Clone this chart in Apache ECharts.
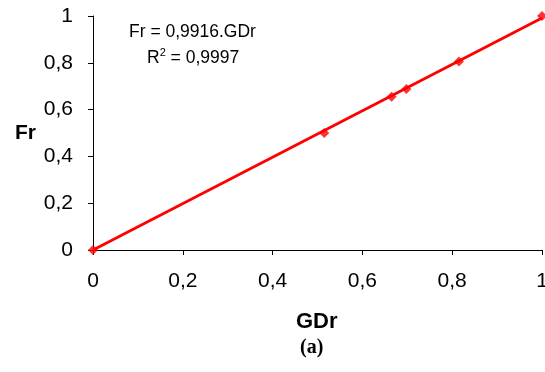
<!DOCTYPE html>
<html><head><meta charset="utf-8">
<script src="https://cdn.jsdelivr.net/npm/echarts@6/dist/echarts.min.js"></script>
<style>html,body{margin:0;padding:0;background:#fff}#c{width:545px;height:372px}</style>
</head><body><div id="c"></div>
<script>
const gdr = [0, 0.515, 0.665, 0.698, 0.815, 1];
const fr = [0, 0.50, 0.655, 0.688, 0.806, 1];
const slope = 0.9916;
const trendX = [0, 1];
const xName = 'GDr', yName = 'Fr';
const eqText = 'Fr = 0,9916.GDr';
const r2Text = '0,9997';
const caption = '(a)';

const chart = echarts.init(document.getElementById('c'));
const fmt = v => String(+v.toFixed(1)).replace('.', ',');
chart.setOption({
  animation: false,
  grid: {left: 93, right: 3, top: 16, bottom: 122, outerBoundsMode: 'none', containLabel: false},
  xAxis: {type: 'value', min: 0, max: 1, interval: 0.2,
    axisLine: {lineStyle: {color: '#000', width: 1}},
    axisTick: {show: true, length: 5, lineStyle: {color: '#000'}},
    splitLine: {show: false},
    axisLabel: {formatter: fmt, fontFamily: 'Liberation Sans', fontSize: 21, color: '#000', margin: 21}
  },
  yAxis: {type: 'value', min: 0, max: 1, interval: 0.2,
    axisLine: {show: true, lineStyle: {color: '#000', width: 1}},
    axisTick: {show: true, length: 5, lineStyle: {color: '#000'}},
    splitLine: {show: false},
    axisLabel: {formatter: fmt, fontFamily: 'Liberation Sans', fontSize: 21, color: '#000', margin: 20}
  },
  series: [
    {type: 'line', data: trendX.map(x => [x, slope * x]), symbol: 'none',
      lineStyle: {color: '#ff0000', width: 2.8}, z: 2},
    {type: 'scatter', data: gdr.map((x, i) => [x, fr[i]]), symbol: 'diamond', symbolSize: 10,
      itemStyle: {color: '#ff0000'}, z: 3}
  ],
  graphic: [
    {type: 'text', left: 15, top: 123, style: {text: yName, font: 'bold 21px "Liberation Sans"', fill: '#000'}},
    {type: 'text', left: 296, top: 311, style: {text: xName, font: 'bold 22px "Liberation Sans"', fill: '#000'}},
    {type: 'text', left: 300, top: 338, style: {text: caption, font: 'bold 20px "Liberation Serif"', fill: '#000'}},
    {type: 'text', left: 129, top: 23, style: {text: eqText, font: '17.5px "Liberation Sans"', fill: '#000'}},
    {type: 'text', left: 147, top: 47, style: {
      text: '{a|R}{s|2}{a| = ' + r2Text + '}',
      rich: {a: {font: '17.5px "Liberation Sans"', color: '#000', verticalAlign: 'bottom', lineHeight: 20},
             s: {font: '11px "Liberation Sans"', color: '#000', verticalAlign: 'top', lineHeight: 20, padding: [0,0,9,0]}}
    }}
  ]
});
</script></body></html>
